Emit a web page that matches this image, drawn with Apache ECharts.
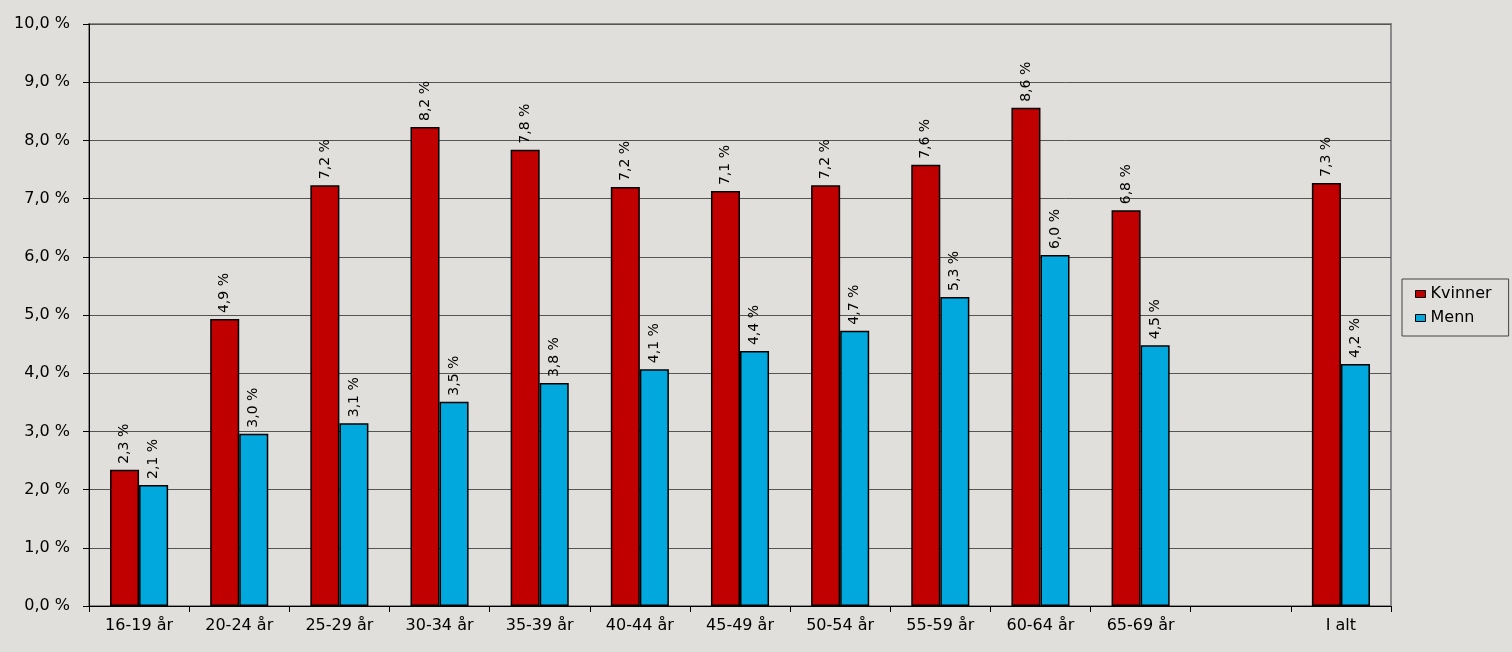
<!DOCTYPE html>
<html><head><meta charset="utf-8">
<script src="https://cdn.jsdelivr.net/npm/echarts@6/dist/echarts.min.js"></script>
<style>html,body{margin:0;padding:0;background:#e0dfdb;}#c{width:1512px;height:652px;}</style>
</head><body><div id="c"></div>
<script>
var categories = ['16-19 år','20-24 år','25-29 år','30-34 år','35-39 år','40-44 år','45-49 år','50-54 år','55-59 år','60-64 år','65-69 år','','I alt'];
var kvinner = [2.34, 4.93, 7.23, 8.23, 7.84, 7.20, 7.13, 7.23, 7.58, 8.56, 6.80, null, 7.27];
var menn = [2.08, 2.96, 3.14, 3.51, 3.83, 4.07, 4.38, 4.73, 5.31, 6.03, 4.48, null, 4.16];
var seriesNames = ['Kvinner','Menn'];

var FONT = 'DejaVu Sans';
var fmt = function(v){ return v.toFixed(1).replace('.', ',') + ' %'; };
var chart = echarts.init(document.getElementById('c'));
var lbl = {
  show: true, position: 'top', rotate: 90, align: 'left', verticalAlign: 'middle', distance: 6,
  fontFamily: FONT, fontSize: 14, color: '#000',
  formatter: function(p){ return p.value == null ? '' : fmt(p.value); }
};
chart.setOption({
  backgroundColor: '#e0dfdb',
  animation: false,
  grid: {left: 89, top: 24, right: 121, bottom: 46, show: true, borderColor: '#8a8a8a', borderWidth: 2, backgroundColor: 'transparent'},
  legend: {
    orient: 'vertical', left: 1402, top: 279,
    data: seriesNames, icon: 'rect', itemWidth: 10, itemHeight: 7, itemGap: 8,
    padding: [7, 17, 10, 13], borderColor: '#444', borderWidth: 1,
    textStyle: {fontFamily: FONT, fontSize: 16, color: '#000'},
    itemStyle: {borderColor: '#000', borderWidth: 1}
  },
  xAxis: {
    type: 'category', data: categories,
    axisLine: {lineStyle: {color: '#000', width: 1}},
    axisTick: {show: true, length: 6, lineStyle: {color: '#000'}},
    axisLabel: {fontFamily: FONT, fontSize: 16, color: '#000', margin: 12}
  },
  yAxis: {
    type: 'value', min: 0, max: 10, interval: 1,
    axisLine: {show: true, lineStyle: {color: '#000', width: 1}},
    axisTick: {show: true, length: 6, lineStyle: {color: '#000'}},
    splitLine: {lineStyle: {color: '#555', width: 1}},
    axisLabel: {fontFamily: FONT, fontSize: 16, color: '#000', margin: 19,
      formatter: function(v){ return fmt(v); }}
  },
  series: [
    {name: seriesNames[0], type: 'bar', data: kvinner, barGap: '0%', barCategoryGap: '42%',
     itemStyle: {color: '#c00000', borderColor: '#000', borderWidth: 1.5}, label: lbl},
    {name: seriesNames[1], type: 'bar', data: menn,
     itemStyle: {color: '#00a8de', borderColor: '#000', borderWidth: 1.5}, label: lbl}
  ]
});
</script></body></html>
